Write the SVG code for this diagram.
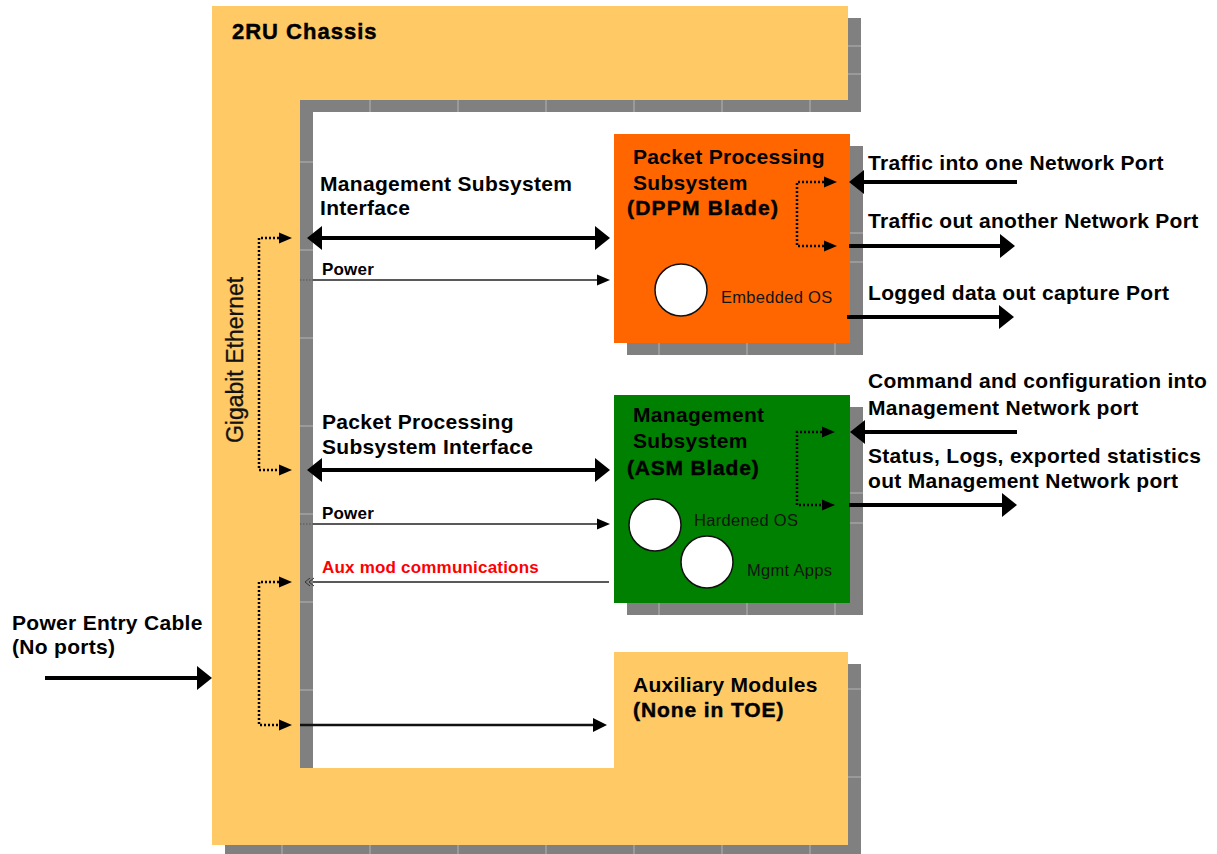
<svg xmlns="http://www.w3.org/2000/svg" width="1217" height="854" viewBox="0 0 1217 854">
  <style>
    text { font-family: "Liberation Sans", Arial, sans-serif; fill: #000; }
    .lbl { font-size: 21px; font-weight: bold; letter-spacing: 0.3px; }
    .heavy { font-size: 21px; font-weight: bold; stroke: #000; stroke-width: 0.45; }
    .sm { font-size: 17px; font-weight: bold; letter-spacing: 0.2px; }
    .os { font-size: 16.5px; fill: #141414; letter-spacing: 0.3px; }
    .aux { fill: #ff0000; }
    .shadow { fill: #808080; }
    .seam { stroke: #b4b4b4; stroke-width: 1; }
    .chassis { fill: #ffc966; }
    .thick { stroke: #000; stroke-width: 4; fill: none; }
    .thin { stroke: #222; stroke-width: 1.5; fill: none; }
    .mid { stroke: #111; stroke-width: 2.5; fill: none; }
    .dots { stroke: #000; stroke-width: 2.5; stroke-dasharray: 2 2; fill: none; }
    .port { fill: #fff; stroke: #111; stroke-width: 1.5; }
  </style>
  <defs>
    <marker id="ah-lg" markerUnits="userSpaceOnUse" markerWidth="16" markerHeight="24" refX="0" refY="12" orient="auto-start-reverse" overflow="visible">
      <path d="M0,0 L15,12 L0,24 Z" fill="#000"/>
    </marker>
    <marker id="ah-md" markerUnits="userSpaceOnUse" markerWidth="14" markerHeight="14" refX="0" refY="7" orient="auto-start-reverse" overflow="visible">
      <path d="M0,0 L14,7 L0,14 Z" fill="#000"/>
    </marker>
    <marker id="ah-sm" markerUnits="userSpaceOnUse" markerWidth="13" markerHeight="11" refX="0" refY="5.5" orient="auto-start-reverse" overflow="visible">
      <path d="M0,0 L13,5.5 L0,11 Z" fill="#000"/>
    </marker>
    <marker id="ah-dot" markerUnits="userSpaceOnUse" markerWidth="13" markerHeight="11" refX="0" refY="5.5" orient="auto-start-reverse" overflow="visible">
      <path d="M0,0 L13,5.5 L0,11 Z" fill="#000"/>
    </marker>
  </defs>

  <rect width="1217" height="854" fill="#fff"/>

  <!-- 2RU chassis frame (C-shaped) with its drop shadow -->
  <g id="chassis">
    <path class="shadow" d="M225,18 H861 V112 H313 V780 H627 V664 H861 V857 H225 Z"/>
    <path class="chassis" d="M212,6 H848 V100 H300 V768 H614 V652 H848 V845 H212 Z"/>
    <text class="heavy" x="232" y="39" style="font-size:22px;letter-spacing:1px">2RU Chassis</text>
    <text style="font-size:23px;fill:#111;stroke:#111;stroke-width:0.3" transform="translate(243,360) rotate(-90)" text-anchor="middle">Gigabit Ethernet</text>
  </g>

  <!-- Packet processing blade -->
  <g id="dppm-blade">
    <rect class="shadow" x="627" y="146" width="236" height="209"/>
    <rect x="614" y="134" width="236" height="209" fill="#ff6600"/>
    <text class="lbl" x="633" y="164">Packet Processing</text>
    <text class="lbl" x="633" y="190">Subsystem</text>
    <text class="heavy" x="627" y="215" style="letter-spacing:1.2px">(DPPM Blade)</text>
    <circle class="port" cx="681" cy="290" r="26"/>
    <text class="os" x="721" y="303">Embedded OS</text>
  </g>

  <!-- Management blade -->
  <g id="asm-blade">
    <rect class="shadow" x="627" y="407" width="236" height="208"/>
    <rect x="614" y="395" width="236" height="208" fill="#008000"/>
    <text class="lbl" x="633" y="422">Management</text>
    <text class="lbl" x="633" y="448">Subsystem</text>
    <text class="heavy" x="627" y="475" style="letter-spacing:0.8px">(ASM Blade)</text>
    <circle class="port" cx="655" cy="525" r="26"/>
    <circle class="port" cx="707" cy="562" r="26"/>
    <text class="os" x="694" y="526">Hardened OS</text>
    <text class="os" x="747" y="576">Mgmt Apps</text>
  </g>

  <!-- Auxiliary module bay -->
  <g id="aux-modules">
    <rect class="chassis" x="614" y="652" width="234" height="120"/>
    <text class="lbl" x="633" y="692">Auxiliary Modules</text>
    <text class="heavy" x="633" y="717" style="letter-spacing:0.9px">(None in TOE)</text>
  </g>

  <!-- light seams in the shadow strips -->
  <g id="seams" class="seam">
    <path d="M370,100 V112 M458,100 V112 M546,100 V112 M634,100 V112 M722,100 V112 M810,100 V112"/>
    <path d="M300,162 H313 M300,250 H313 M300,338 H313 M300,426 H313 M300,514 H313 M300,602 H313 M300,690 H313"/>
    <path d="M282,845 V854 M370,845 V854 M458,845 V854 M546,845 V854 M634,845 V854 M722,845 V854 M810,845 V854"/>
    <path d="M848,46 H861 M848,74 H861 M848,689 H861 M848,777 H861"/>
    <path d="M659,343 V355 M747,343 V355 M835,343 V355 M850,233 H863 M850,262 H863"/>
    <path d="M659,603 V615 M747,603 V615 M835,603 V615 M850,493 H863 M850,523 H863"/>
  </g>

  <!-- interface labels -->
  <g id="labels">
    <text class="lbl" x="320" y="191">Management Subsystem</text>
    <text class="lbl" x="320" y="215">Interface</text>
    <text class="sm" x="322" y="275">Power</text>
    <text class="lbl" x="322" y="429">Packet Processing</text>
    <text class="lbl" x="322" y="454">Subsystem Interface</text>
    <text class="sm" x="322" y="519">Power</text>
    <text class="sm aux" x="322" y="573">Aux mod communications</text>
    <text class="lbl" x="12" y="630">Power Entry Cable</text>
    <text class="lbl" x="12" y="654">(No ports)</text>
    <text class="lbl" x="868" y="170">Traffic into one Network Port</text>
    <text class="lbl" x="868" y="228">Traffic out another Network Port</text>
    <text class="lbl" x="868" y="300">Logged data out capture Port</text>
    <text class="lbl" x="868" y="388">Command and configuration into</text>
    <text class="lbl" x="868" y="415">Management Network port</text>
    <text class="lbl" x="868" y="463">Status, Logs, exported statistics</text>
    <text class="lbl" x="868" y="488">out Management Network port</text>
  </g>

  <!-- connectors -->
  <g id="connectors">
    <!-- blade interfaces -->
    <path class="thick" d="M322,238 H595" marker-start="url(#ah-lg)" marker-end="url(#ah-lg)"/>
    <path class="thin" d="M313,280 H597" marker-end="url(#ah-sm)"/>
    <path d="M300,280 H313" stroke="#555" stroke-width="1" stroke-dasharray="1.5 1.5"/>
    <path class="thick" d="M322,470 H595" marker-start="url(#ah-lg)" marker-end="url(#ah-lg)"/>
    <path class="thin" d="M313,524 H597" marker-end="url(#ah-sm)"/>
    <path d="M300,524 H313" stroke="#555" stroke-width="1" stroke-dasharray="1.5 1.5"/>
    <path class="thin" d="M313,582 H609"/>
    <path d="M310,578 L305,582 L310,586 M314,578 L309,582 L314,586" stroke="#333" stroke-width="1" fill="none"/>
    <path class="mid" d="M300,725 H593" marker-end="url(#ah-md)"/>

    <!-- gigabit ethernet backplane links -->
    <path class="dots" d="M279,238 H259 V470 H279" marker-start="url(#ah-dot)" marker-end="url(#ah-dot)"/>
    <path class="dots" d="M279,582 H259 V725 H279" marker-start="url(#ah-dot)" marker-end="url(#ah-dot)"/>

    <!-- blade internal paths -->
    <path class="dots" d="M824,182 H797 V246 H824" marker-start="url(#ah-dot)" marker-end="url(#ah-dot)"/>
    <path class="dots" d="M822,432 H797 V505 H822" marker-start="url(#ah-dot)" marker-end="url(#ah-dot)"/>

    <!-- external ports -->
    <path class="thick" d="M1017,182 H864" marker-end="url(#ah-lg)"/>
    <path class="thick" d="M849,246 H1000" marker-end="url(#ah-lg)"/>
    <path class="thick" d="M847,317 H999" marker-end="url(#ah-lg)"/>
    <path class="thick" d="M1017,432 H865" marker-end="url(#ah-lg)"/>
    <path class="thick" d="M849,505 H1002" marker-end="url(#ah-lg)"/>

    <!-- power entry -->
    <path class="thick" d="M45,678 H197" marker-end="url(#ah-lg)"/>
  </g>
</svg>
